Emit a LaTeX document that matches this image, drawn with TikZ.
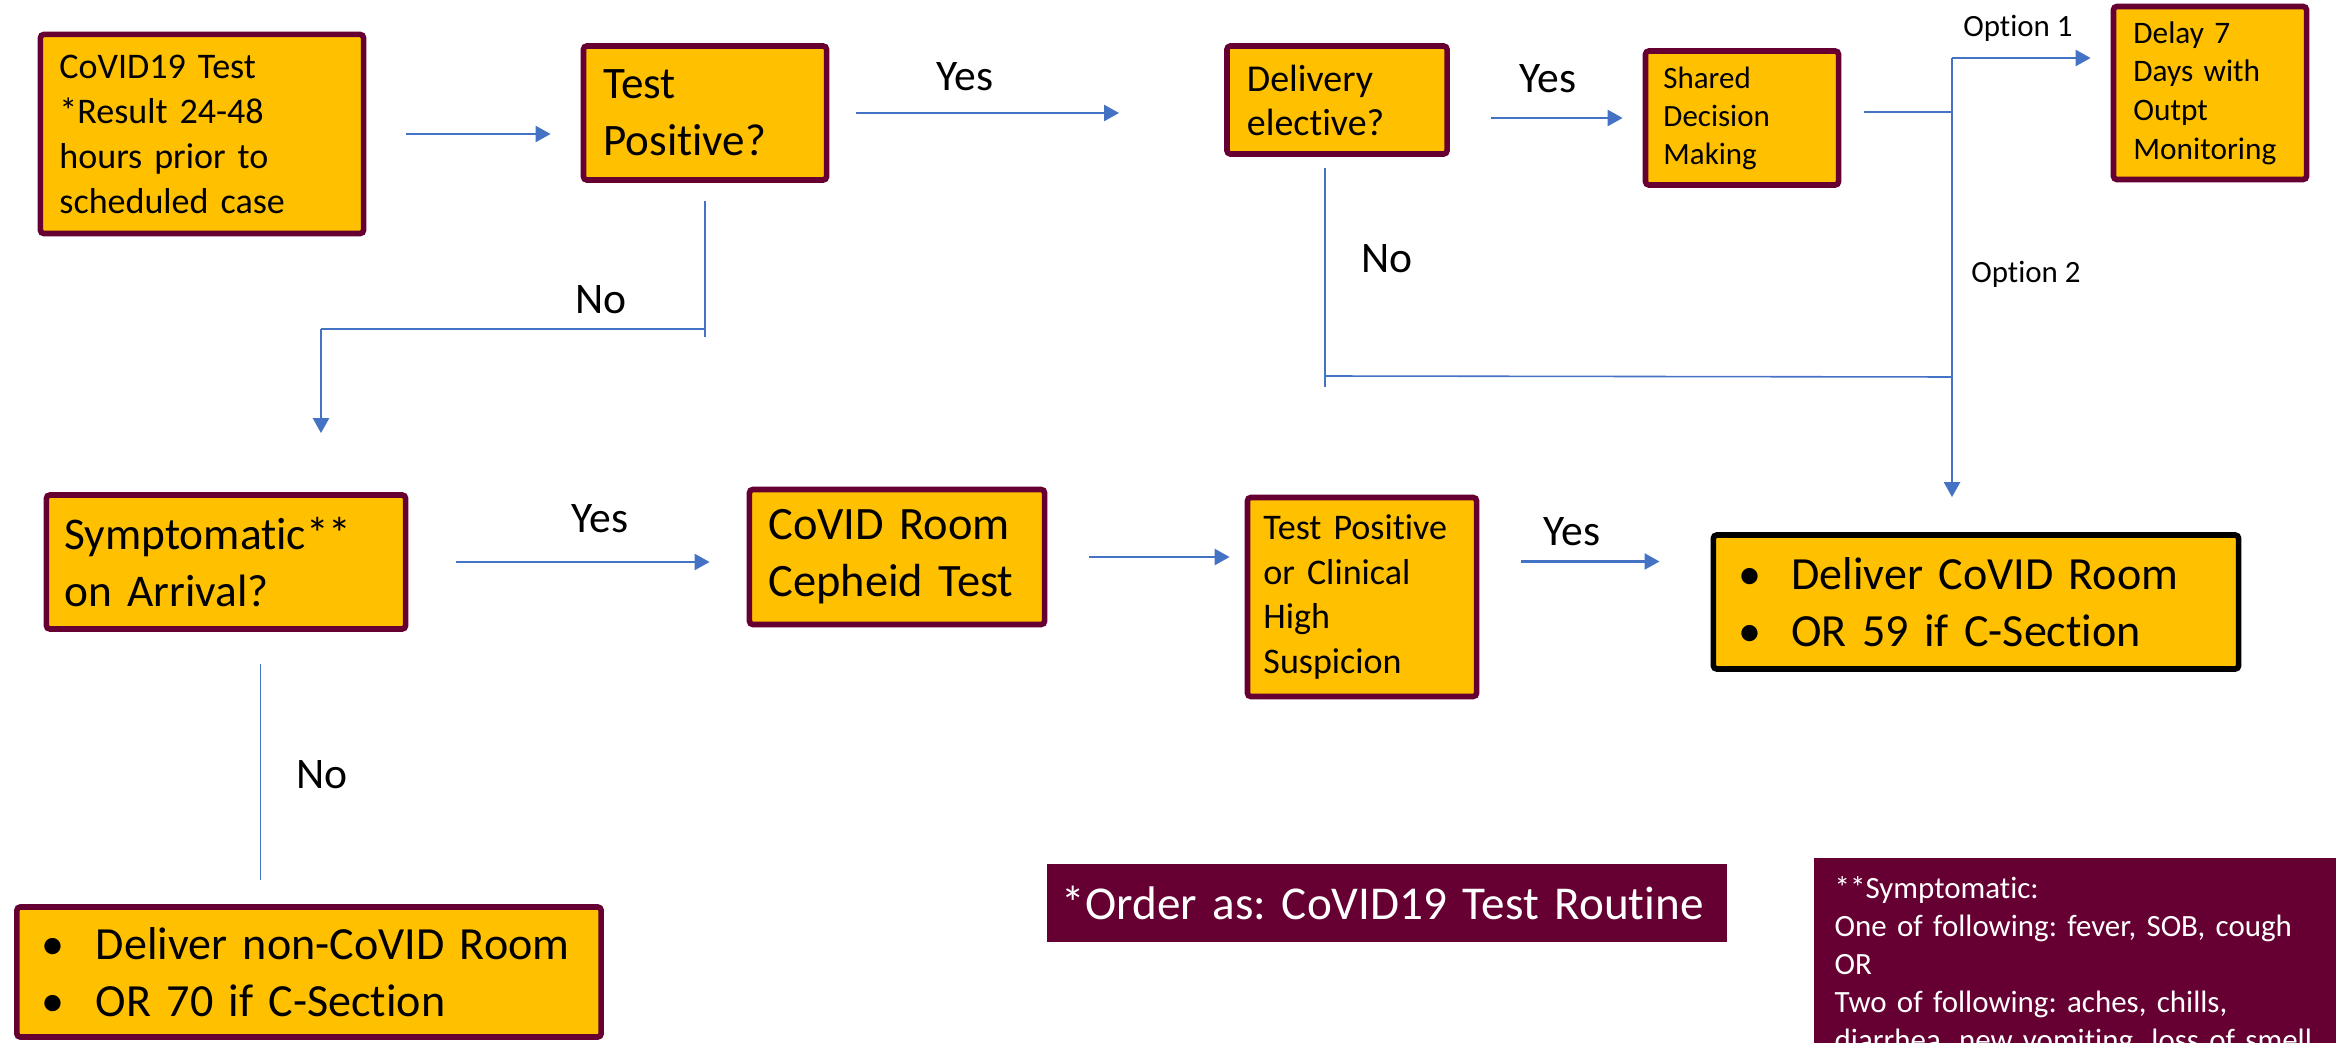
\documentclass[tikz,border=0pt]{standalone}
\usepackage{fontspec}
\setmainfont{Carlito}[Ligatures=NoCommon]
\usetikzlibrary{arrows.meta, positioning, calc}
\definecolor{boxGold}{RGB}{255,192,0}
\definecolor{boxMaroon}{RGB}{102,0,51}
\definecolor{flowBlue}{RGB}{68,114,196}
\frenchspacing

\begin{document}
\begin{tikzpicture}[
    x=0.01cm, y=-0.01cm,
    box/.style={rectangle, draw=boxMaroon, line width=1.6pt, fill=boxGold, rounded corners=1pt, align=left, inner ysep=0pt},
    note/.style={rectangle, fill=boxMaroon, text=white, align=left},
    answer/.style={anchor=base, inner sep=0pt, font=\fontsize{12.4}{14}\selectfont},
    option/.style={anchor=base, inner sep=0pt, font=\fontsize{8.8}{10}\selectfont},
    arrow/.style={-{Triangle[length=1.5mm, width=1.6mm]}, flowBlue, line width=0.7pt},
    link/.style={flowBlue, line width=0.45pt}
]
\useasboundingbox (0,0) rectangle (2336,1043);
\clip (0,0) rectangle (2336,1043);

% top row
\node[box, minimum width=3.23cm, minimum height=1.99cm, inner xsep=0.19cm, text width=2.85cm, font=\fontsize{10.25}{12.8}\selectfont] (covidtest) at (202,134) {CoVID19 Test\\{}*Result 24-48\\hours prior to\\scheduled case};

\node[box, minimum width=2.43cm, minimum height=1.34cm, inner xsep=0.2cm, text width=2.03cm, font=\fontsize{12.8}{16.2}\selectfont] (testpos) at (705,113) {Test\\Positive?};

\node[box, minimum width=2.2cm, minimum height=1.08cm, inner xsep=0.2cm, text width=1.8cm, font=\fontsize{10.8}{12.5}\selectfont] (delivery) at (1337,100) {Delivery\\elective?};

\node[box, minimum width=1.93cm, minimum height=1.34cm, inner xsep=0.18cm, text width=1.57cm, font=\fontsize{8.8}{10.8}\selectfont] (shared) at (1742,118) {Shared\\Decision\\Making};

\node[box, minimum width=1.93cm, minimum height=1.73cm, inner xsep=0.2cm, text width=1.53cm, font=\fontsize{8.9}{11}\selectfont] (delay) at (2210,93) {Delay 7\\Days with\\Outpt\\Monitoring};

% bottom row
\node[box, minimum width=3.59cm, minimum height=1.34cm, inner xsep=0.18cm, text width=3.23cm, font=\fontsize{12.9}{16.2}\selectfont] (symptomatic) at (226,562) {Symptomatic**\\on Arrival?};

\node[box, minimum width=2.95cm, minimum height=1.35cm, inner xsep=0.19cm, text width=2.57cm, font=\fontsize{13.2}{16.2}\selectfont] (covidroom) at (897,557) {CoVID Room\\Cepheid Test};

\node[box, minimum width=2.29cm, minimum height=1.99cm, inner xsep=0.16cm, text width=1.97cm, font=\fontsize{10.25}{12.7}\selectfont] (testclin) at (1362,597) {Test Positive\\or Clinical\\High\\Suspicion};

\node[box, draw=black, minimum width=5.25cm, minimum height=1.34cm, inner xsep=0.25cm, text width=4.75cm, font=\fontsize{13.1}{16.2}\selectfont] (delivercovid) at (1976,602) {\makebox[0.53cm][l]{\textbullet}Deliver CoVID Room\\\makebox[0.53cm][l]{\textbullet}OR 59 if C-Section};

\node[box, minimum width=5.84cm, minimum height=1.3cm, inner xsep=0.25cm, text width=5.34cm, font=\fontsize{13.1}{16.2}\selectfont] (delivernon) at (309,972) {\makebox[0.54cm][l]{\textbullet}Deliver non-CoVID Room\\\makebox[0.54cm][l]{\textbullet}OR 70 if C-Section};

% notes
\node[note, minimum width=6.8cm, minimum height=0.78cm, inner xsep=0.15cm, text width=6.5cm, font=\fontsize{13.4}{16}\selectfont] (order) at (1387,903) {*Order as: CoVID19 Test Routine};

\node[note, anchor=north west, minimum width=5.4cm, inner xsep=0.21cm, inner ysep=0.19cm, text width=4.98cm, font=\fontsize{8.8}{10.8}\selectfont] (symptoms) at (1813,857) {**Symptomatic:\\One of following: fever, SOB, cough\\OR\\Two of following: aches, chills,\\diarrhea, new vomiting, loss of smell};

% answers
\node[answer] (yesPos) at (965,91) {Yes};
\node[answer] (noPos) at (601,314) {No};
\node[answer] (yesElec) at (1548,93) {Yes};
\node[answer] (noElec) at (1387,273) {No};
\node[option] (optOne) at (2018,37) {Option 1};
\node[option] (optTwo) at (2026,283) {Option 2};
\node[answer] (yesSymp) at (600,533) {Yes};
\node[answer] (noSymp) at (322,788) {No};
\node[answer] (yesClin) at (1572,546) {Yes};

% junctions
\coordinate (noTurn) at (testpos.south |- 0,329);
\coordinate (noDrop) at (321,329);
\coordinate (noJoin) at (1325,376);
\coordinate (optSplit) at (1952,112);
\coordinate (optTop) at (1952,58);
\coordinate (optMerge) at (1952,377);
\coordinate (sympOut) at ([xshift=0.345cm]symptomatic.south);
\coordinate (clinOut) at ([yshift=0.355cm]testclin.east);

\draw[arrow, shorten <=0.4cm, shorten >=0.3cm] (covidtest.east) -- (covidtest.east -| testpos.west);
\draw[arrow, shorten <=0.27cm, shorten >=1.05cm] (testpos.east) -- (testpos.east -| delivery.west);
\draw[link, shorten <=0.18cm] (testpos.south) -- ([yshift=-0.08cm]noTurn);
\draw[link] (noTurn) -- (noDrop);
\draw[arrow, shorten >=0.59cm] (noDrop) -- (noDrop |- symptomatic.north);

\draw[arrow, shorten <=0.41cm, shorten >=0.2cm] (delivery.east |- shared.west) -- (shared.west);
\draw[link, shorten <=0.11cm] (noJoin |- delivery.south) -- ([yshift=-0.11cm]noJoin);
\draw[link] (noJoin) -- (optMerge);
\draw[link, shorten <=0.23cm] (shared.east |- optSplit) -- (optSplit);
\draw[link] (optTop) -- (optMerge);
\draw[arrow, shorten >=0.2cm] (optTop) -- (optTop -| delay.west);
\draw[arrow, shorten >=0.35cm] (optMerge) -- (optMerge |- delivercovid.north);

\draw[arrow, shorten <=0.48cm, shorten >=0.37cm] (symptomatic.east) -- (symptomatic.east -| covidroom.west);
\draw[link, shorten <=0.32cm, shorten >=0.24cm] (sympOut) -- (sympOut |- delivernon.north);
\draw[arrow, shorten <=0.42cm, shorten >=0.15cm] (covidroom.east) -- (covidroom.east -| testclin.west);
\draw[arrow, shorten <=0.42cm, shorten >=0.51cm] (clinOut) -- (clinOut -| delivercovid.west);

\end{tikzpicture}
\end{document}
